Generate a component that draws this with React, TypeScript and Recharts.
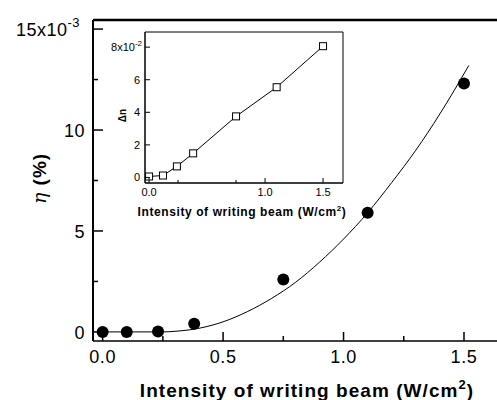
import {
  ComposedChart,
  LineChart,
  Line,
  Scatter,
  XAxis,
  YAxis,
  ReferenceLine,
  ReferenceArea,
  Label,
} from "recharts"

// main plot: diffraction efficiency (units of 10^-3) vs writing intensity
const intensity = [0, 0.1, 0.23, 0.38, 0.75, 1.1, 1.5]
const efficiency = [0, 0, 0.02, 0.4, 2.6, 5.9, 12.3]

// fitted curve
const fitIntensity = [0, 0.1, 0.25, 0.3, 0.4, 0.5, 0.6, 0.7, 0.8, 0.9, 1.0, 1.1, 1.2, 1.3, 1.4, 1.52]
const fitEfficiency = [0, 0, 0, 0.03, 0.18, 0.5, 1.0, 1.65, 2.45, 3.45, 4.6, 5.9, 7.4, 9.0, 10.8, 13.2]

// inset: index change (units of 10^-2)
const insetIntensity = [0, 0.12, 0.24, 0.38, 0.75, 1.1, 1.5]
const deltaN = [0.06, 0.12, 0.68, 1.48, 3.75, 5.54, 8.06]

const mainXTicks = [0, 0.25, 0.5, 0.75, 1.0, 1.25, 1.5]
const mainXLabels = ["0.0", "", "0.5", "", "1.0", "", "1.5"]
const mainYTicks = [0, 2.5, 5, 7.5, 10, 12.5, 15]
const mainYLabels = ["0", "", "5", "", "10", "", "15"]

const insetXTicks = [0, 0.25, 0.5, 0.75, 1.0, 1.25, 1.5]
const insetXLabels = ["0.0", "", "0.5", "", "1.0", "", "1.5"]
const insetYTicks = [0, 1, 2, 3, 4, 5, 6, 7, 8]
const insetYLabels = ["0", "", "2", "", "4", "", "6", "", "8"]

const X_MIN = -0.04
const X_MAX = 1.637
const Y_MIN = -0.45
const Y_MAX = 15.45

const IX_MIN = -0.035
const IX_MAX = 1.672
const IY_MIN = -0.34
const IY_MAX = 8.93

const font = "'Liberation Sans', Arial, Helvetica, sans-serif"

const points = intensity.map((x, i) => ({ x, y: efficiency[i] }))
const fit = fitIntensity.map((x, i) => ({ x, y: fitEfficiency[i] }))
const inset = insetIntensity.map((x, i) => ({ x, y: deltaN[i] }))

function MainXTick(props: any) {
  const { x, y, payload } = props
  const i = mainXTicks.indexOf(payload.value)
  const label = mainXLabels[i]
  const len = label ? 9 : 5
  return (
    <g>
      <line x1={x} y1={y} x2={x} y2={y - len} stroke="#000" strokeWidth={1.5} />
      {label && (
        <text x={x} y={y + 22} textAnchor="middle" fontSize={18} fontFamily={font} fill="#000" letterSpacing={0.6}>
          {label}
        </text>
      )}
    </g>
  )
}

function MainYTick(props: any) {
  const { x, y, payload } = props
  const i = mainYTicks.indexOf(payload.value)
  const label = mainYLabels[i]
  const len = label ? 10 : 5
  return (
    <g>
      <line x1={x} y1={y} x2={x + len} y2={y} stroke="#000" strokeWidth={1.5} />
      {label === "15" ? (
        <text x={x - 13} y={y + 7} textAnchor="end" fontSize={18} fontFamily={font} fill="#000" letterSpacing={0.5}>
          15x10
          <tspan dy={-9} fontSize={13}>-3</tspan>
        </text>
      ) : label ? (
        <text x={x - 8} y={y + 7} textAnchor="end" fontSize={18} fontFamily={font} fill="#000" letterSpacing={0.5}>
          {label}
        </text>
      ) : null}
    </g>
  )
}

function InsetXTick(props: any) {
  const { x, y, payload } = props
  const i = insetXTicks.indexOf(payload.value)
  const label = insetXLabels[i]
  const len = label ? 5 : 3
  return (
    <g>
      <line x1={x} y1={y} x2={x} y2={y - len} stroke="#000" strokeWidth={1} />
      {label && (
        <text x={x} y={y + 13} textAnchor="middle" fontSize={11} fontFamily={font} fill="#000">
          {label}
        </text>
      )}
    </g>
  )
}

function InsetYTick(props: any) {
  const { x, y, payload } = props
  const i = insetYTicks.indexOf(payload.value)
  const label = insetYLabels[i]
  const len = label ? 5 : 3
  return (
    <g>
      <line x1={x} y1={y} x2={x + len} y2={y} stroke="#000" strokeWidth={1} />
      {label === "8" ? (
        <text x={x - 3} y={y + 4} textAnchor="end" fontSize={11} fontFamily={font} fill="#000">
          8x10
          <tspan dy={-5} fontSize={8}>-2</tspan>
        </text>
      ) : label ? (
        <text x={x - 5} y={y + 4} textAnchor="end" fontSize={11} fontFamily={font} fill="#000">
          {label}
        </text>
      ) : null}
    </g>
  )
}

function MainXLabel(props: any) {
  const vb = props.viewBox
  return (
    <text
      x={vb.x + vb.width / 2 + 12}
      y={vb.y + 56}
      textAnchor="middle"
      fontSize={19}
      fontWeight="bold"
      fontFamily={font}
      letterSpacing={1.05}
      fill="#000"
    >
      Intensity of writing beam (W/cm
      <tspan dy={-8} fontSize={13}>2</tspan>
      <tspan dy={8}>)</tspan>
    </text>
  )
}

function MainYLabel(props: any) {
  const vb = props.viewBox
  const cx = vb.x + 39
  const cy = vb.y + vb.height / 2 - 2
  return (
    <text
      x={cx}
      y={cy}
      transform={`rotate(-90 ${cx} ${cy})`}
      textAnchor="middle"
      dominantBaseline="central"
      fontSize={19}
      fontWeight="bold"
      fontFamily={font}
      letterSpacing={1}
      fill="#000"
    >
      <tspan fontStyle="italic" fontFamily="'DejaVu Serif', serif" fontWeight="normal">η</tspan> (%)
    </text>
  )
}

function InsetXLabel(props: any) {
  const vb = props.viewBox
  return (
    <text
      x={vb.x + vb.width / 2 - 2}
      y={vb.y + 33}
      textAnchor="middle"
      fontSize={12}
      fontWeight="bold"
      fontFamily={font}
      letterSpacing={0.6}
      fill="#000"
    >
      Intensity of writing beam (W/cm
      <tspan dy={-5} fontSize={8}>2</tspan>
      <tspan dy={5}>)</tspan>
    </text>
  )
}

function InsetYLabel(props: any) {
  const vb = props.viewBox
  const cx = vb.x + 22
  const cy = vb.y + vb.height / 2 + 8
  return (
    <text
      x={cx}
      y={cy}
      transform={`rotate(-90 ${cx} ${cy})`}
      textAnchor="middle"
      dominantBaseline="central"
      fontSize={10}
      fontWeight="bold"
      fontFamily={font}
      fill="#000"
    >
      Δn
    </text>
  )
}

const Dot = (props: any) => <circle cx={props.cx} cy={props.cy} r={6} fill="#000" />

const Square = (props: any) => {
  if (props.cx == null || props.cy == null) return null
  return (
    <rect
      key={props.index}
      x={props.cx - 3.5}
      y={props.cy - 3.5}
      width={7}
      height={7}
      fill="#fff"
      stroke="#000"
      strokeWidth={1}
    />
  )
}

export default function App() {
  return (
    <div style={{ position: "absolute", left: 0, top: 0, width: 497, height: 400, background: "#fff", overflow: "hidden" }}>
      <ComposedChart width={497} height={400} margin={{ top: 20, right: 0, left: 0, bottom: 0 }}>
        <XAxis
          type="number"
          dataKey="x"
          domain={[X_MIN, X_MAX]}
          ticks={mainXTicks}
          allowDataOverflow
          height={59}
          tickSize={0}
          tickMargin={0}
          tickLine={false}
          axisLine={{ stroke: "#000", strokeWidth: 1.5 }}
          tick={<MainXTick />}
        >
          <Label content={<MainXLabel />} />
        </XAxis>
        <YAxis
          type="number"
          dataKey="y"
          domain={[Y_MIN, Y_MAX]}
          ticks={mainYTicks}
          allowDataOverflow
          width={93}
          tickSize={0}
          tickMargin={0}
          tickLine={false}
          axisLine={{ stroke: "#000", strokeWidth: 2 }}
          tick={<MainYTick />}
        >
          <Label content={<MainYLabel />} />
        </YAxis>
        <ReferenceLine y={Y_MAX} stroke="#000" strokeWidth={2.5} />
        <Line
          data={fit}
          dataKey="y"
          type="monotone"
          stroke="#000"
          strokeWidth={1}
          dot={false}
          activeDot={false}
          isAnimationActive={false}
        />
        <Scatter data={points} dataKey="y" shape={<Dot />} isAnimationActive={false} />
      </ComposedChart>

      <div style={{ position: "absolute", left: 100, top: 20 }}>
        <LineChart width={250} height={210} data={inset} margin={{ top: 12, right: 7, left: 0, bottom: 0 }}>
          <ReferenceArea
            x1={IX_MIN}
            x2={IX_MAX}
            y1={IY_MIN}
            y2={IY_MAX}
            fill="#fff"
            fillOpacity={1}
            stroke="#000"
            strokeWidth={1}
          />
          <XAxis
            type="number"
            dataKey="x"
            domain={[IX_MIN, IX_MAX]}
            ticks={insetXTicks}
            allowDataOverflow
            height={47}
            tickSize={0}
            tickMargin={0}
            tickLine={false}
            axisLine={{ stroke: "#000", strokeWidth: 1 }}
            tick={<InsetXTick />}
          >
            <Label content={<InsetXLabel />} />
          </XAxis>
          <YAxis
            type="number"
            domain={[IY_MIN, IY_MAX]}
            ticks={insetYTicks}
            allowDataOverflow
            width={45}
            tickSize={0}
            tickMargin={0}
            tickLine={false}
            axisLine={{ stroke: "#000", strokeWidth: 1 }}
            tick={<InsetYTick />}
          >
            <Label content={<InsetYLabel />} />
          </YAxis>
          <Line
            dataKey="y"
            type="linear"
            stroke="#000"
            strokeWidth={1}
            dot={<Square />}
            activeDot={false}
            isAnimationActive={false}
          />
        </LineChart>
      </div>
    </div>
  )
}
